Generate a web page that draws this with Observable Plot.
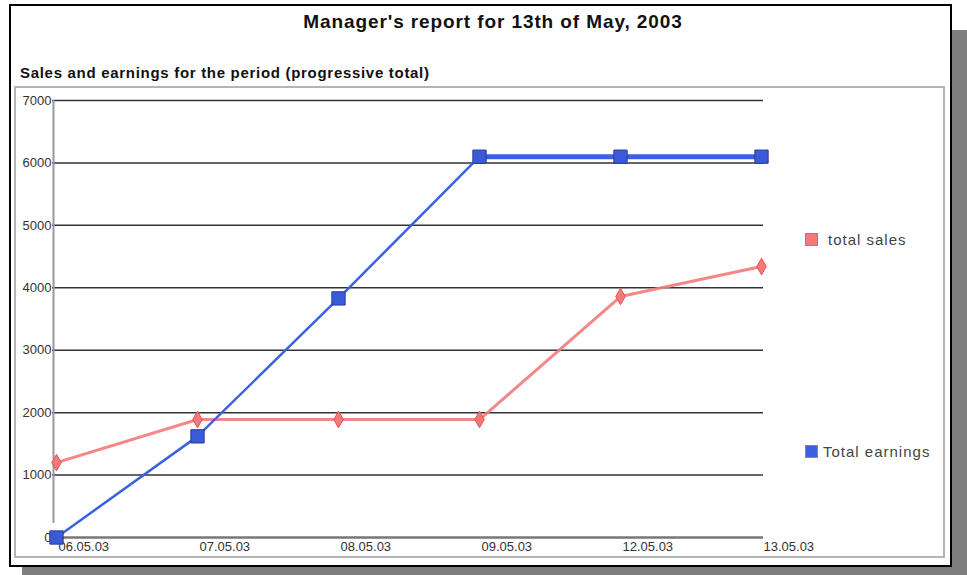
<!DOCTYPE html>
<html>
<head>
<meta charset="utf-8">
<script src="https://cdn.jsdelivr.net/npm/d3@7"></script>
<script src="https://cdn.jsdelivr.net/npm/@observablehq/plot@0.6"></script>
<style>
  html, body { margin: 0; padding: 0; background: #fff; }
  #wrap { position: relative; width: 967px; height: 575px; overflow: hidden; font-family: "Liberation Sans", Arial, sans-serif; }
  .shadow { position: absolute; background: #7f7f7f; }
  #frame { position: absolute; left: 9px; top: 4px; width: 939px; height: 559px; border: 2px solid #000; background: #fff; }
  #inner { position: absolute; left: 14px; top: 86px; width: 927px; height: 468px; border: 2px solid #b4b4b4; }
  #title { position: absolute; left: 0; width: 986px; top: 11px; text-align: center; font-weight: bold; font-size: 19px; letter-spacing: 0.9px; color: #111; }
  #subtitle { position: absolute; left: 20px; top: 64px; font-weight: bold; font-size: 15px; letter-spacing: 0.7px; color: #111; }
  #chart { position: absolute; left: 0; top: 0; }
  .leg { position: absolute; font-size: 15px; letter-spacing: 1px; color: #444; display: flex; align-items: center; }
  .sw { width: 13px; height: 13px; box-sizing: border-box; border: 1px solid #888; }
</style>
</head>
<body>
<div id="wrap">
  <div class="shadow" style="left:950px; top:30px; width:17px; height:545px;"></div>
  <div class="shadow" style="left:22px; top:565px; width:945px; height:10px;"></div>
  <div id="frame"></div>
  <div id="inner"></div>
  <div id="title"></div>
  <div id="subtitle"></div>
  <div id="chart"></div>
  <div class="leg" id="leg1" style="left:805px; top:231px;"></div>
  <div class="leg" id="leg2" style="left:805px; top:443px;"></div>
</div>
<script>
const titleText = "Manager's report for 13th of May, 2003";
const subtitleText = "Sales and earnings for the period (progressive total)";
const dates = ["06.05.03", "07.05.03", "08.05.03", "09.05.03", "12.05.03", "13.05.03"];
const totalSales = [1200, 1890, 1890, 1890, 3860, 4340];
const totalEarnings = [0, 1620, 3830, 6100, 6100, 6100];
const yTicks = [0, 1000, 2000, 3000, 4000, 5000, 6000, 7000];
const seriesNames = ["total sales", "Total earnings"];
const seriesColors = ["#f47a7a", "#3a62e0"];

document.getElementById("title").textContent = titleText;
document.getElementById("subtitle").textContent = subtitleText;

const sales = dates.map((d, i) => ({date: d, value: totalSales[i], i}));
const earnings = dates.map((d, i) => ({date: d, value: totalEarnings[i], i}));

const chart = Plot.plot({
  width: 967,
  height: 575,
  marginLeft: 55,
  marginRight: 205,
  marginTop: 100,
  marginBottom: 38,
  style: {background: "transparent", fontFamily: "Liberation Sans, Arial, sans-serif"},
  x: {type: "point", domain: dates, padding: 0},
  y: {domain: [0, 7000]},
  marks: [
    Plot.ruleY(yTicks.filter(t => t > 0), {stroke: "#333", strokeWidth: 1.5, insetLeft: -3, insetRight: -1}),
    Plot.ruleX([dates[0]], {y1: 0, y2: 7000, stroke: "#999", strokeWidth: 2, dx: -3, insetTop: -14}),
    Plot.ruleY([0], {stroke: "#777", strokeWidth: 2.5, insetLeft: -3, insetRight: -1}),
    Plot.axisY({ticks: yTicks, tickFormat: d => String(d), tickSize: 0, tickPadding: 4, fontSize: 13, fill: "#333", label: null}),
    Plot.axisX({tickSize: 0, tickPadding: 4, textAnchor: "start", dx: 2, fontSize: 13, fill: "#333", label: null, style: {letterSpacing: "0.9px"}}),
    Plot.line(sales, {x: "date", y: "value", stroke: seriesColors[0], strokeWidth: 3, strokeOpacity: 0.9}),
    Plot.line(earnings, {x: "date", y: "value", stroke: seriesColors[1], strokeWidth: 2.5}),
    Plot.line(earnings, {filter: d => d.i >= 3, x: "date", y: "value", stroke: seriesColors[1], strokeWidth: 5}),
    Plot.dot(sales, {x: "date", y: "value", symbol: "diamond", r: 5, fill: "#f47a7a", stroke: "#e85050", strokeWidth: 1}),
    Plot.dot(earnings, {x: "date", y: "value", symbol: "square", r: 7.5, fill: "#3a5ad8", stroke: "#2a3a9a", strokeWidth: 1})
  ]
});
document.getElementById("chart").appendChild(chart);

function legend(id, name, color, gap) {
  const el = document.getElementById(id);
  const sw = document.createElement("div");
  sw.className = "sw";
  sw.style.background = color;
  sw.style.marginRight = gap + "px";
  const t = document.createElement("span");
  t.textContent = name;
  el.appendChild(sw);
  el.appendChild(t);
}
legend("leg1", seriesNames[0], seriesColors[0], 10);
legend("leg2", seriesNames[1], seriesColors[1], 5);
</script>
</body>
</html>
